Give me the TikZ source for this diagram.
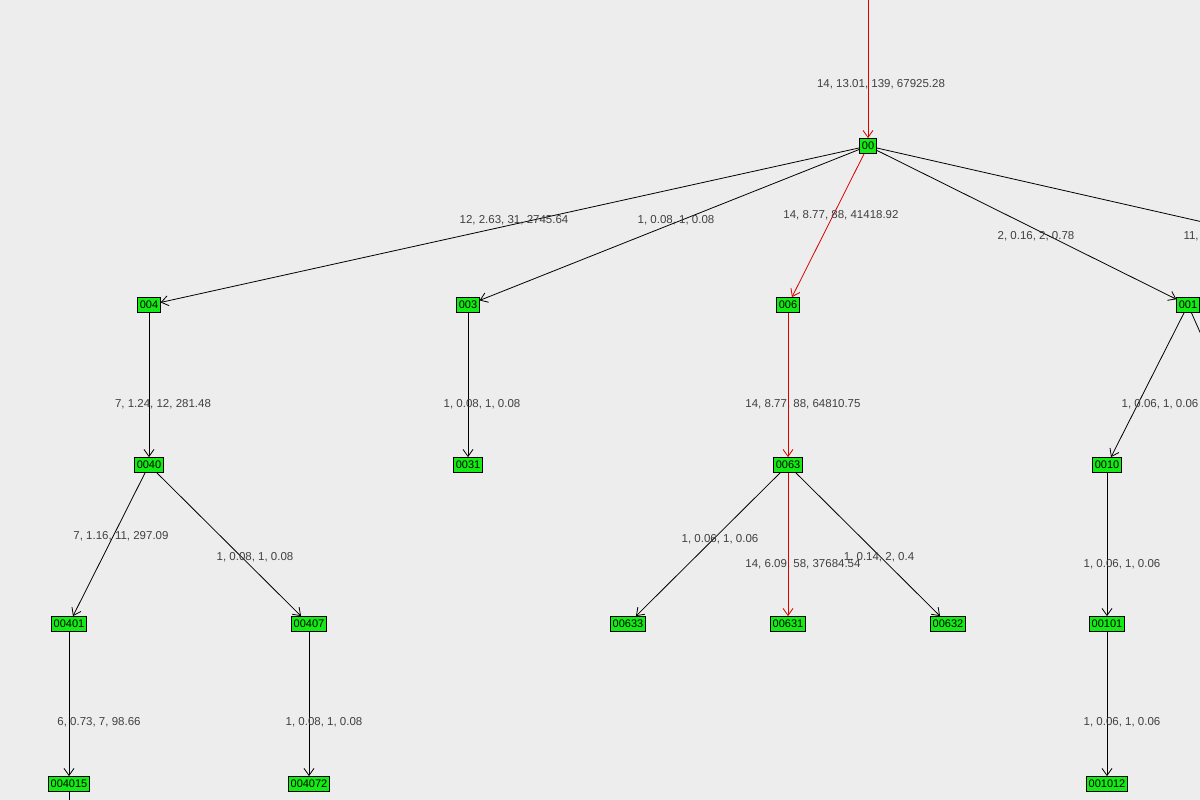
\documentclass[tikz,border=0pt]{standalone}
\usepackage{fontspec}
\setmainfont{Liberation Sans}
\usetikzlibrary{arrows.meta}
\definecolor{vertgreen}{RGB}{20,235,20}
\tikzset{
  vert/.style={draw=black, fill=vertgreen, inner xsep=2pt, inner ysep=1.5pt, minimum height=15pt, line width=0.8pt, font=\fontsize{11}{12}\selectfont},
  edge/.style={-{Straight Barb[length=7pt,width=10pt]}, line width=0.8pt},
  hot/.style={edge, draw=red!85!black},
  lbl/.style={font=\fontsize{11.5}{13}\selectfont, text=black!75}
}
\begin{document}
\begin{tikzpicture}[x=1pt,y=-1pt]
	\fill[black!7] (0,0) rectangle (1200,800);
	\useasboundingbox (0,0) rectangle (1200,800);
	\clip (0,0) rectangle (1200,800);

	% vertices
	\node[vert] (n00) at (868,146) {00};
	\node[vert] (n004) at (149,305) {004};
	\node[vert] (n003) at (468,305) {003};
	\node[vert] (n006) at (788,305) {006};
	\node[vert] (n001) at (1188,305) {001};
	\node[vert] (n0040) at (149,465) {0040};
	\node[vert] (n0031) at (468,465) {0031};
	\node[vert] (n0063) at (788,465) {0063};
	\node[vert] (n0010) at (1107,465) {0010};
	\node[vert] (n00401) at (69,624) {00401};
	\node[vert] (n00407) at (309,624) {00407};
	\node[vert] (n00633) at (628,624) {00633};
	\node[vert] (n00631) at (788,624) {00631};
	\node[vert] (n00632) at (948,624) {00632};
	\node[vert] (n00101) at (1107,624) {00101};
	\node[vert] (n004015) at (69,784) {004015};
	\node[vert] (n004072) at (309,784) {004072};
	\node[vert] (n001012) at (1107,784) {001012};
	\coordinate (top) at (868,-5);
	\coordinate (east) at (1260,235);
	\coordinate (south) at (69,820);
	\coordinate (eastdown) at (1230,400);

	% edges
	\draw[hot] (top) -- (n00);
	\draw[hot] (n00) -- (n006);
	\draw[hot] (n006) -- (n0063);
	\draw[hot] (n0063) -- (n00631);
	\draw[edge] (n00) -- (n004);
	\draw[edge] (n00) -- (n003);
	\draw[edge] (n00) -- (n001);
	\draw[line width=0.8pt] (n00) -- (east);
	\draw[edge] (n004) -- (n0040);
	\draw[edge] (n003) -- (n0031);
	\draw[edge] (n001) -- (n0010);
	\draw[line width=0.8pt] (n001) -- (eastdown);
	\draw[edge] (n0040) -- (n00401);
	\draw[edge] (n0040) -- (n00407);
	\draw[edge] (n0063) -- (n00633);
	\draw[edge] (n0063) -- (n00632);
	\draw[edge] (n0010) -- (n00101);
	\draw[edge] (n00401) -- (n004015);
	\draw[edge] (n00407) -- (n004072);
	\draw[edge] (n00101) -- (n001012);
	\draw[line width=0.8pt] (n004015) -- (south);

	% labels
	\node[lbl] (l1) at (881,84) {14, 13.01, 139, 67925.28};
	\node[lbl] (l2) at (514,220) {12, 2.63, 31, 2745.64};
	\node[lbl] (l3) at (676,220) {1, 0.08, 1, 0.08};
	\node[lbl] (l4) at (841,215) {14, 8.77, 88, 41418.92};
	\node[lbl] (l5) at (1036,236) {2, 0.16, 2, 0.78};
	\node[lbl, anchor=west] (l6) at (1180,236) {11, 0.82};
	\node[lbl] (l7) at (163,404) {7, 1.24, 12, 281.48};
	\node[lbl] (l8) at (482,404) {1, 0.08, 1, 0.08};
	\node[lbl] (l9) at (803,404) {14, 8.77, 88, 64810.75};
	\node[lbl] (l10) at (1160,404) {1, 0.06, 1, 0.06};
	\node[lbl] (l11) at (121,536) {7, 1.16, 11, 297.09};
	\node[lbl] (l12) at (255,557) {1, 0.08, 1, 0.08};
	\node[lbl] (l13) at (720,539) {1, 0.06, 1, 0.06};
	\node[lbl] (l14) at (803,564) {14, 6.09, 58, 37684.54};
	\node[lbl] (l15) at (879,557) {1, 0.14, 2, 0.4};
	\node[lbl] (l16) at (1122,564) {1, 0.06, 1, 0.06};
	\node[lbl] (l17) at (99,722) {6, 0.73, 7, 98.66};
	\node[lbl] (l18) at (324,722) {1, 0.08, 1, 0.08};
	\node[lbl] (l19) at (1122,722) {1, 0.06, 1, 0.06};
\end{tikzpicture}
\end{document}
